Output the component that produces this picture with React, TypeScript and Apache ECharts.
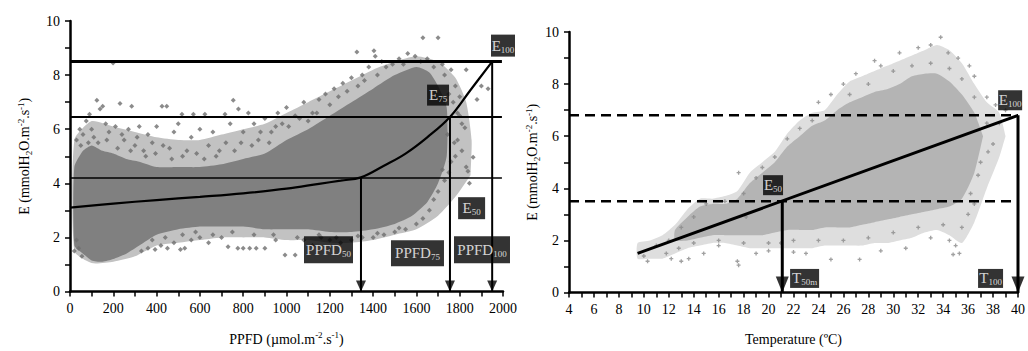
import React, { useEffect, useRef } from "react";
import * as echarts from "echarts";

const FONT = "Liberation Serif";

// ---------- Left panel: E vs PPFD ----------
const ppfdAxis = { min: 0, max: 2000, interval: 200 };
const eAxisLeft = { min: 0, max: 10, interval: 2 };
const eLevelsLeft = [4.2, 6.45, 8.5]; // E50, E75, E100
const ppfdThresholds = [1344, 1755, 1950]; // PPFD50, PPFD75, PPFD100
const levelLineEndLeft = 1995;
const fitCurveLeft: number[][] = [
  [0, 3.1], [200, 3.25], [400, 3.38], [600, 3.5], [800, 3.63], [1000, 3.8],
  [1150, 3.98], [1250, 4.1], [1344, 4.22], [1450, 4.65], [1550, 5.1],
  [1650, 5.7], [1755, 6.45], [1850, 7.45], [1950, 8.5],
];
const leftOuterUpper: number[][] = [
  [20, 5.6], [100, 6.3], [200, 6.1], [300, 5.9], [400, 5.7], [500, 5.6], [600, 5.6],
  [700, 5.8], [800, 6.0], [900, 6.2], [1000, 6.6], [1100, 7.0], [1200, 7.4], [1300, 7.8],
  [1400, 8.2], [1500, 8.5], [1600, 8.7], [1700, 8.5], [1780, 7.9], [1830, 7.0], [1855, 5.6],
  [1850, 4.3],
];
const leftOuterLower: number[][] = [
  [20, 1.5], [100, 1.05], [200, 1.1], [300, 1.3], [400, 1.7], [500, 1.8], [600, 1.9],
  [700, 2.0], [800, 2.0], [900, 2.0], [1000, 1.9], [1100, 1.9], [1200, 1.8], [1300, 1.8],
  [1400, 1.9], [1500, 2.1], [1600, 2.3], [1700, 2.8], [1780, 3.5], [1850, 4.3],
];
const leftCoreUpper: number[][] = [
  [20, 4.6], [60, 5.2], [100, 5.4], [150, 5.2], [200, 5.1], [260, 4.9], [320, 4.8],
  [400, 4.6], [500, 4.6], [600, 4.6], [700, 4.7], [800, 4.9], [900, 5.1], [1000, 5.6],
  [1100, 6.0], [1200, 6.5], [1300, 7.0], [1400, 7.5], [1500, 8.0], [1600, 8.3],
  [1660, 8.1], [1700, 7.6], [1740, 6.8],
];
const leftCoreLower: number[][] = [
  [20, 1.7], [60, 1.4], [100, 1.15], [150, 1.1], [200, 1.2], [260, 1.4], [320, 1.7],
  [400, 2.1], [500, 2.3], [600, 2.4], [700, 2.4], [800, 2.4], [900, 2.3], [1000, 2.3],
  [1100, 2.3], [1200, 2.2], [1300, 2.2], [1400, 2.3], [1500, 2.5], [1580, 2.8],
  [1650, 3.3], [1700, 4.0], [1740, 5.0],
];
const leftPoints: number[][] = [
  [30, 5.6], [45, 6.0], [60, 5.8], [75, 6.3], [90, 6.55], [100, 6.0], [110, 5.7], [124, 7.07],
  [139, 6.75], [151, 6.85], [165, 6.2], [180, 5.9], [199, 8.45], [210, 6.1], [231, 6.95],
  [250, 5.6], [270, 6.0], [285, 6.85], [300, 5.4], [320, 6.1], [340, 5.2], [360, 5.8],
  [380, 5.5], [400, 6.1], [425, 6.85], [447, 6.85], [460, 5.3], [480, 5.9], [500, 6.2],
  [517, 6.55], [540, 5.2], [560, 5.7], [570, 6.55], [600, 6.0], [623, 6.55], [640, 5.4],
  [660, 5.9], [690, 5.2], [716, 6.55], [740, 6.2], [754, 7.07], [778, 6.75], [800, 5.9],
  [824, 6.6], [850, 6.2], [870, 5.6], [900, 6.4], [930, 5.9], [960, 6.6], [980, 6.2],
  [1000, 6.8], [1040, 6.5], [1080, 7.0], [1120, 6.6], [1150, 7.1], [1180, 7.3], [1220, 7.5],
  [1260, 7.7], [1300, 7.9], [1325, 8.85], [1350, 8.0], [1380, 8.3], [1404, 8.9], [1410, 8.7],
  [1440, 8.5], [1520, 8.6], [1560, 8.8], [1594, 8.7], [1630, 9.38], [1650, 8.6], [1700, 9.38],
  [1720, 8.4], [1760, 8.2], [1780, 7.6], [1800, 7.2], [1830, 8.2], [1824, 6.05], [1775, 5.5],
  [1744, 5.8], [1862, 4.96], [1830, 4.6], [1838, 4.45], [1845, 4.0], [1880, 7.1], [1900, 7.6],
  [1931, 7.5], [1790, 6.6], [1810, 5.2], [1760, 4.8], [1720, 4.5], [1700, 3.7], [1680, 3.4],
  [1660, 3.0], [1630, 2.7], [1600, 2.5],
  [20, 1.5], [30, 1.9], [40, 1.6], [55, 1.3], [330, 1.5], [360, 1.6], [393, 1.55], [420, 1.7],
  [450, 1.6], [480, 1.8], [510, 1.55], [530, 1.6], [560, 1.9], [600, 2.0], [640, 1.8],
  [700, 2.0], [730, 1.65], [775, 1.6], [800, 1.6], [830, 1.6], [860, 1.6], [900, 1.6],
  [950, 1.9], [993, 1.35], [1040, 1.35], [1080, 1.9], [1120, 1.7], [1160, 2.0], [1200, 1.9],
  [1250, 1.8], [1300, 1.9], [1350, 2.0], [1400, 2.0], [1450, 2.1], [1500, 2.2], [1550, 2.3],
  [50, 5.4], [85, 5.5], [130, 5.5], [170, 5.6], [220, 5.3], [240, 5.8], [280, 5.2], [310, 5.7],
  [350, 5.0], [395, 5.1], [430, 5.4], [470, 4.9], [520, 5.0], [585, 5.1], [620, 4.9],
  [675, 5.0], [720, 5.5], [760, 5.2], [790, 5.5], [840, 5.4], [880, 5.9], [920, 5.5],
  [950, 6.1], [1010, 6.1], [1060, 6.4], [1100, 6.3], [1140, 6.6], [1200, 6.9], [1240, 7.2],
  [1280, 7.4], [1330, 7.6], [1360, 7.8], [1420, 8.0], [1460, 8.3], [1490, 8.4], [1540, 8.4],
  [1620, 8.5], [1680, 8.3], [1730, 8.0], [1750, 7.3], [1770, 7.0], [1800, 6.5], [1810, 6.2],
  [1790, 5.6], [1780, 5.0], [1750, 4.4], [1730, 4.1],
  [380, 1.9], [440, 2.0], [520, 2.1], [580, 2.2], [660, 2.1], [750, 2.2], [850, 2.1],
  [940, 2.1], [1050, 2.0], [1150, 2.1], [1230, 2.0], [1330, 2.05], [1420, 2.15], [1520, 2.35],
];

// ---------- Right panel: E vs Temperature ----------
const tempAxis = { min: 4, max: 40, interval: 2 };
const eAxisRight = { min: 0, max: 10, interval: 2 };
const eLevelsRight = [3.5, 6.8]; // E50, E100
const levelLineEndRight = [39.5, 40];
const tempThresholds = [21.1, 40]; // T50m, T100
const fitLineRight: number[][] = [[9.5, 1.5], [40, 6.8]];
const rightOuterUpper: number[][] = [
  [9.5, 1.9], [10.5, 2.0], [11.5, 2.2], [12.5, 2.6], [13.5, 3.2], [14.5, 3.6], [15.5, 3.6],
  [16.5, 3.7], [17.5, 3.9], [18.5, 4.6], [19.5, 5.0], [20.5, 5.4], [21.5, 6.1], [22.5, 6.6],
  [23.5, 6.9], [24.5, 7.0], [25.5, 7.6], [26.5, 8.1], [27.5, 8.3], [28.5, 8.5], [29.5, 8.7],
  [30.5, 8.9], [31.5, 9.1], [32.5, 9.3], [33.5, 9.5], [34.5, 9.3], [35.5, 8.8], [36.5, 8.0],
  [37.5, 7.3], [38.5, 6.9], [39, 6.0],
];
const rightOuterLower: number[][] = [
  [9.5, 1.3], [10.5, 1.3], [11.5, 1.3], [12.5, 1.5], [13.5, 1.7], [14.5, 1.8], [15.5, 1.9],
  [16.5, 1.9], [17.5, 1.8], [18.5, 1.7], [19.5, 1.7], [20.5, 1.7], [21.5, 1.7], [22.5, 1.7],
  [23.5, 1.7], [24.5, 1.8], [25.5, 1.8], [26.5, 1.8], [27.5, 1.8], [28.5, 1.9], [29.5, 1.9],
  [30.5, 2.0], [31.5, 2.1], [32.5, 2.3], [33.5, 2.4], [34.5, 2.2], [35.5, 1.9], [36.5, 2.7],
  [37.5, 4.0], [38.5, 5.2], [39, 6.0],
];
const rightCoreUpper: number[][] = [
  [12.5, 2.4], [13.5, 2.9], [14.5, 3.3], [15.5, 3.4], [16.5, 3.4], [17.5, 3.6], [18.5, 4.2],
  [19.5, 4.6], [20.5, 5.0], [21.5, 5.6], [22.5, 6.0], [23.5, 6.4], [24.5, 6.6], [25.5, 7.0],
  [26.5, 7.3], [27.5, 7.5], [28.5, 7.7], [29.5, 7.8], [30.5, 8.0], [31.5, 8.3], [32.5, 8.4],
  [33.5, 8.4], [34.5, 8.1], [35.5, 7.6], [36.5, 6.9], [37.2, 6.0],
];
const rightCoreLower: number[][] = [
  [12.5, 2.0], [13.5, 2.0], [14.5, 2.1], [15.5, 2.2], [16.5, 2.2], [17.5, 2.2], [18.5, 2.2],
  [19.5, 2.2], [20.5, 2.3], [21.5, 2.4], [22.5, 2.4], [23.5, 2.4], [24.5, 2.5], [25.5, 2.5],
  [26.5, 2.5], [27.5, 2.6], [28.5, 2.7], [29.5, 2.8], [30.5, 2.9], [31.5, 3.0], [32.5, 3.1],
  [33.5, 3.2], [34.5, 3.3], [35.5, 3.6], [36.5, 4.6], [37.2, 6.0],
];
const rightPoints: number[][] = [
  [10.0, 1.4], [10.3, 1.2], [11.0, 1.8], [11.8, 1.5], [12.2, 1.3], [13.0, 1.2], [13.6, 1.3],
  [14.8, 1.5], [17.5, 1.2], [17.6, 1.05], [18.2, 2.9], [19.0, 4.4], [17.6, 4.6], [20.0, 1.6],
  [23.0, 1.5], [25.0, 1.27], [27.3, 1.27], [24.0, 7.3], [25.0, 7.6], [26.0, 8.0], [27.0, 8.4],
  [28.5, 8.9], [29.0, 8.7], [30.5, 9.2], [32.0, 9.4], [33.0, 9.5], [33.8, 9.8], [34.4, 9.2],
  [35.2, 9.0], [36.1, 8.7], [36.5, 8.3], [37.5, 7.5], [38.2, 7.2], [39.0, 7.0], [38.5, 6.5],
  [38.0, 5.7], [37.6, 5.4], [36.8, 4.5], [36.2, 3.8], [36.0, 3.0], [35.5, 2.5], [35.0, 1.8],
  [35.3, 1.5], [34.8, 1.46], [34.5, 2.0], [33.0, 2.1], [31.0, 1.7], [29.0, 1.6], [22.0, 1.55],
  [21.0, 1.9], [19.0, 1.5], [16.0, 1.8],
  [12.0, 2.0], [13.0, 2.5], [14.0, 2.9], [15.0, 3.4], [16.5, 3.5], [18.0, 3.8], [19.5, 4.8],
  [20.5, 5.2], [21.5, 5.9], [22.5, 6.3], [23.5, 6.6], [26.5, 7.6], [28.0, 8.0], [30.0, 8.5],
  [31.5, 8.7], [33.0, 8.8], [34.5, 8.6], [35.5, 8.2], [36.5, 7.5], [37.5, 6.5], [37.0, 5.0],
  [36.5, 3.4], [34.0, 2.6], [32.0, 2.5], [30.0, 2.3], [28.0, 2.1], [26.0, 2.0], [24.0, 2.0],
  [22.0, 2.0], [20.0, 1.9], [18.0, 1.9], [16.0, 2.0], [14.0, 1.9], [12.8, 1.7],
];

// ---------- Annotation boxes ----------
const leftBoxes = [
  { label: "{m|E}{s|100}", at: [2000, 9.09], size: [24, 22] },
  { label: "{m|E}{s|75}", at: [1700, 7.26], size: [22, 21] },
  { label: "{m|E}{s|50}", at: [1855, 3.08], size: [27, 22] },
  { label: "{m|PPFD}{s|50}", at: [1194, 1.54], size: [49, 27] },
  { label: "{m|PPFD}{s|75}", at: [1605, 1.41], size: [53, 26] },
  { label: "{m|PPFD}{s|100}", at: [1903, 1.54], size: [56, 27] },
];
const rightBoxes = [
  { label: "{m|E}{s|100}", at: [39.37, 7.38], size: [24, 20] },
  { label: "{m|E}{s|50}", at: [20.36, 4.12], size: [20, 20] },
  { label: "{m|T}{s|50m}", at: [22.89, 0.54], size: [29, 19] },
  { label: "{m|T}{s|100}", at: [37.8, 0.54], size: [25, 19] },
];

const nameRich = {
  n: { fontFamily: FONT, fontSize: 14, color: "#000", lineHeight: 17 },
  sp: { fontFamily: FONT, fontSize: 9, color: "#000", lineHeight: 10, verticalAlign: "top" },
  sb: { fontFamily: FONT, fontSize: 9, color: "#000", lineHeight: 10, verticalAlign: "bottom" },
};
const boxRich = {
  m: { fontFamily: FONT, fontSize: 15, color: "#fff", lineHeight: 17 },
  s: { fontFamily: FONT, fontSize: 9, color: "#fff", lineHeight: 10, verticalAlign: "bottom" },
};

function axisBase(gridIndex: number, cfg: { min: number; max: number; interval: number }) {
  return {
    type: "value",
    gridIndex,
    min: cfg.min,
    max: cfg.max,
    interval: cfg.interval,
    axisLine: { show: true, onZero: false, lineStyle: { color: "#000", width: 2.5 } },
    axisTick: { show: true, length: 5, lineStyle: { color: "#000", width: 1.5 } },
    minorTick: { show: true, splitNumber: 2, length: 5, lineStyle: { color: "#000", width: 1.5 } },
    splitLine: { show: false },
    minorSplitLine: { show: false },
    axisLabel: {
      fontFamily: FONT,
      fontSize: 14,
      color: "#000",
      margin: 10,
      formatter: (v: number) => String(v),
    },
    nameLocation: "middle",
    nameTextStyle: { fontFamily: FONT, rich: nameRich },
  };
}

function polygonSeries(gi: number, upper: number[][], lower: number[][], fill: string, z: number) {
  const poly = [...upper, ...lower.slice().reverse()];
  return {
    type: "custom",
    xAxisIndex: gi,
    yAxisIndex: gi,
    data: [[poly[0][0], poly[0][1]]],
    silent: true,
    z,
    renderItem: (_p: any, api: any) => ({
      type: "polygon",
      shape: { points: poly.map((p) => api.coord(p)), smooth: 0.2 },
      style: { fill },
    }),
  };
}

function lineSeries(gi: number, data: number[][], width: number, extra: any = {}) {
  return {
    type: "line",
    xAxisIndex: gi,
    yAxisIndex: gi,
    data,
    symbol: "none",
    silent: true,
    z: 5,
    lineStyle: { color: "#000", width, ...(extra.lineStyle || {}) },
    smooth: extra.smooth || false,
  };
}

function arrowSeries(gi: number, xs: number[], size: number[]) {
  return {
    type: "scatter",
    xAxisIndex: gi,
    yAxisIndex: gi,
    data: xs.map((x) => [x, 0]),
    symbol: "triangle",
    symbolRotate: 180,
    symbolSize: size,
    symbolOffset: [0, -size[1] / 2],
    itemStyle: { color: "#000" },
    silent: true,
    z: 6,
  };
}

function boxSeries(gi: number, boxes: { label: string; at: number[]; size: number[] }[]) {
  return {
    type: "scatter",
    xAxisIndex: gi,
    yAxisIndex: gi,
    silent: true,
    z: 7,
    data: boxes.map((b) => ({
      value: b.at,
      symbolSize: b.size,
      label: { formatter: b.label },
    })),
    symbol: "rect",
    itemStyle: { color: "#000" },
    label: { show: true, position: "inside", rich: boxRich, textBorderWidth: 0 },
  };
}

const PLUS = "path://M0,1H3V2H0Z M1,0H2V3H1Z";

function buildOption() {
  const series: any[] = [];
  // left
  series.push(polygonSeries(0, leftOuterUpper, leftOuterLower, "#c2c2c2", 1));
  series.push(polygonSeries(0, leftCoreUpper, leftCoreLower, "#808080", 1));
  series.push({
    type: "scatter",
    xAxisIndex: 0,
    yAxisIndex: 0,
    data: leftPoints,
    symbol: "diamond",
    symbolSize: 5,
    itemStyle: { color: "#6e6e6e" },
    silent: true,
    z: 2,
  });
  const leftWidths = [1.5, 2, 3];
  eLevelsLeft.forEach((lv, i) => {
    series.push(lineSeries(0, [[ppfdAxis.min, lv], [levelLineEndLeft, lv]], leftWidths[i]));
    series.push(lineSeries(0, [[ppfdThresholds[i], lv], [ppfdThresholds[i], 0]], 2));
  });
  series.push(lineSeries(0, fitCurveLeft, 2.2, { smooth: 0.4 }));
  series.push(arrowSeries(0, ppfdThresholds, [10, 11]));
  series.push(boxSeries(0, leftBoxes));

  // right
  series.push(polygonSeries(1, rightOuterUpper, rightOuterLower, "#dedede", 1));
  series.push(polygonSeries(1, rightCoreUpper, rightCoreLower, "#b4b4b4", 1));
  series.push({
    type: "scatter",
    xAxisIndex: 1,
    yAxisIndex: 1,
    data: rightPoints,
    symbol: PLUS,
    symbolSize: [4, 4],
    itemStyle: { color: "#8a8a8a" },
    silent: true,
    z: 2,
  });
  eLevelsRight.forEach((lv, i) => {
    series.push(
      lineSeries(1, [[tempAxis.min, lv], [levelLineEndRight[i], lv]], 2.5, {
        lineStyle: { type: [10, 6] },
      })
    );
    series.push(lineSeries(1, [[tempThresholds[i], lv], [tempThresholds[i], 0]], 3));
  });
  series.push(lineSeries(1, fitLineRight, 3));
  series.push(arrowSeries(1, tempThresholds, [13, 16]));
  series.push(boxSeries(1, rightBoxes));

  return {
    animation: false,
    textStyle: { fontFamily: FONT },
    grid: [
      { left: 70, right: 525, top: 21, bottom: 54 },
      { left: 569, right: 10, top: 32, bottom: 52 },
    ],
    xAxis: [
      {
        ...axisBase(0, ppfdAxis),
        name: "{n|PPFD (µmol.m}{sp|-2}{n|.s}{sp|-1}{n|)}",
        nameGap: 39,
      },
      {
        ...axisBase(1, tempAxis),
        name: "{n|Temperature (ºC)}",
        nameGap: 38,
      },
    ],
    yAxis: [
      {
        ...axisBase(0, eAxisLeft),
        name: "{n|E (mmolH}{sb|2}{n|O.m}{sp|-2}{n|.s}{sp|-1}{n|)}",
        nameGap: 37,
      },
      {
        ...axisBase(1, eAxisRight),
        name: "{n|E (mmolH}{sb|2}{n|O.m}{sp|-2}{n|.s}{sp|-1}{n|)}",
        nameGap: 25,
      },
    ],
    series,
  };
}

export default function App() {
  const ref = useRef<HTMLDivElement>(null);
  useEffect(() => {
    document.body.style.margin = "0";
    if (!ref.current) return;
    const chart = echarts.init(ref.current, undefined, { renderer: "svg" });
    chart.setOption(buildOption() as any);
    return () => chart.dispose();
  }, []);
  return (
    <div
      ref={ref}
      style={{ width: 1028, height: 351, position: "absolute", left: 0, top: 0, background: "#fff" }}
    />
  );
}
